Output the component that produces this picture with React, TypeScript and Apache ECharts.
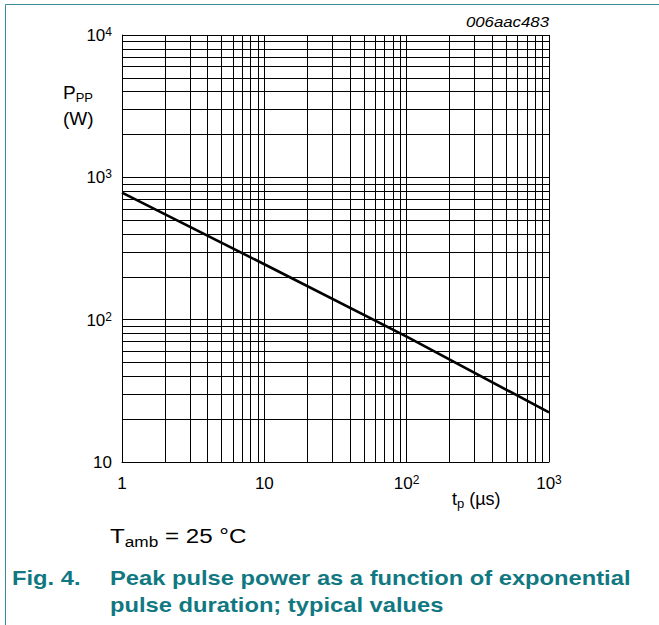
import React, { useEffect, useRef } from "react";
import * as echarts from "echarts";

const pulseDuration = [1, 10, 100, 1000];
const peakPower = [780, 245, 76, 22.3];
const xMinorTicks = [2, 3, 4, 5, 6, 7, 8, 9, 20, 30, 40, 50, 60, 70, 80, 90, 200, 300, 400, 500, 600, 700, 800, 900];
const yMinorTicks = [20, 30, 40, 50, 60, 70, 80, 90, 200, 300, 400, 500, 600, 700, 800, 900, 2000, 3000, 4000, 5000, 6000, 7000, 8000, 9000];

const FONT = "'Liberation Sans', Arial, sans-serif";
const TEAL = "#117882";

function powLabel(v: number): string {
  const e = Math.round(Math.log10(v));
  if (e === 0) return "{b|1}";
  if (e === 1) return "{b|10}";
  return `{b|10}{s|${e}}`;
}

const richLabel = {
  b: { fontSize: 17, fontFamily: FONT, color: "#000", verticalAlign: "bottom" as const, lineHeight: 18 },
  s: { fontSize: 12, fontFamily: FONT, color: "#000", verticalAlign: "top" as const, lineHeight: 12 },
};

export default function App() {
  const ref = useRef<HTMLDivElement>(null);
  useEffect(() => {
    if (!ref.current) return;
    const chart = echarts.init(ref.current, null, { renderer: "svg" });
    const lineData = pulseDuration.map((x, i) => [x, peakPower[i]]);
    const minorStyle = { color: "#000", width: 1, type: "solid" as const };
    chart.setOption({
      animation: false,
      backgroundColor: "#fff",
      grid: { left: 122, top: 35, width: 427, height: 427, containLabel: false },
      xAxis: {
        type: "log",
        logBase: 10,
        min: 1,
        max: 1000,
        axisLine: { show: true, lineStyle: { color: "#000", width: 1 } },
        axisTick: { show: false },
        splitLine: { show: true, lineStyle: { color: "#000", width: 1 } },
        axisLabel: { margin: 12, formatter: (v: number) => powLabel(v), rich: richLabel },
      },
      yAxis: {
        type: "log",
        logBase: 10,
        min: 10,
        max: 10000,
        axisLine: { show: true, lineStyle: { color: "#000", width: 1 } },
        axisTick: { show: false },
        splitLine: { show: true, lineStyle: { color: "#000", width: 1 } },
        axisLabel: { margin: 10, formatter: (v: number) => powLabel(v), rich: richLabel },
      },
      series: [
        {
          type: "line",
          data: lineData,
          symbol: "none",
          lineStyle: { color: "#000", width: 2.6 },
          silent: true,
          z: 5,
          markLine: {
            silent: true,
            symbol: ["none", "none"],
            label: { show: false },
            lineStyle: minorStyle,
            z: 1,
            data: [
              ...xMinorTicks.map((v) => ({ xAxis: v })),
              ...yMinorTicks.map((v) => ({ yAxis: v })),
            ],
          },
        },
      ],
      graphic: [
        { type: "line", silent: true, shape: { x1: 5.5, y1: 4.5, x2: 659, y2: 4.5 }, style: { stroke: "#3a8d94", lineWidth: 1 } },
        { type: "line", silent: true, shape: { x1: 5.5, y1: 4.5, x2: 5.5, y2: 625 }, style: { stroke: "#3a8d94", lineWidth: 1 } },
        {
          type: "text", x: 549, y: 22, silent: true, scaleX: 1.12,
          style: { text: "006aac483", font: `italic 15px ${FONT}`, fill: "#000", align: "right", verticalAlign: "middle" },
        },
        {
          type: "text", x: 63, y: 93, silent: true,
          style: {
            text: "{m|P}{s|PP}", align: "left", verticalAlign: "middle",
            rich: {
              m: { fontSize: 19, fontFamily: FONT, fill: "#000", verticalAlign: "top", lineHeight: 21 },
              s: { fontSize: 13, fontFamily: FONT, fill: "#000", verticalAlign: "bottom", lineHeight: 13 },
            },
          },
        },
        {
          type: "text", x: 63, y: 118, silent: true,
          style: { text: "(W)", font: `19px ${FONT}`, fill: "#000", align: "left", verticalAlign: "middle" },
        },
        {
          type: "text", x: 452, y: 500, silent: true,
          style: {
            text: "{m|t}{s|p}{m| (µs)}", align: "left", verticalAlign: "middle",
            rich: {
              m: { fontSize: 18, fontFamily: FONT, fill: "#000", verticalAlign: "top", lineHeight: 20 },
              s: { fontSize: 13, fontFamily: FONT, fill: "#000", verticalAlign: "bottom", lineHeight: 13 },
            },
          },
        },
        {
          type: "text", x: 110, y: 537, silent: true, scaleX: 1.15,
          style: {
            text: "{m|T}{s|amb}{m| = 25 °C}", align: "left", verticalAlign: "middle",
            rich: {
              m: { fontSize: 21, fontFamily: FONT, fill: "#000", verticalAlign: "top", lineHeight: 23 },
              s: { fontSize: 15, fontFamily: FONT, fill: "#000", verticalAlign: "bottom", lineHeight: 15 },
            },
          },
        },
        {
          type: "text", x: 12, y: 578, silent: true, scaleX: 1.13,
          style: { text: "Fig. 4.", font: `bold 21px ${FONT}`, fill: TEAL, align: "left", verticalAlign: "middle" },
        },
        {
          type: "text", x: 110, y: 578, silent: true, scaleX: 1.13,
          style: { text: "Peak pulse power as a function of exponential", font: `bold 21px ${FONT}`, fill: TEAL, align: "left", verticalAlign: "middle" },
        },
        {
          type: "text", x: 110, y: 605, silent: true, scaleX: 1.13,
          style: { text: "pulse duration; typical values", font: `bold 21px ${FONT}`, fill: TEAL, align: "left", verticalAlign: "middle" },
        },
      ],
    });
    return () => chart.dispose();
  }, []);
  return <div ref={ref} style={{ position: "fixed", left: 0, top: 0, width: 659, height: 625 }} />;
}
